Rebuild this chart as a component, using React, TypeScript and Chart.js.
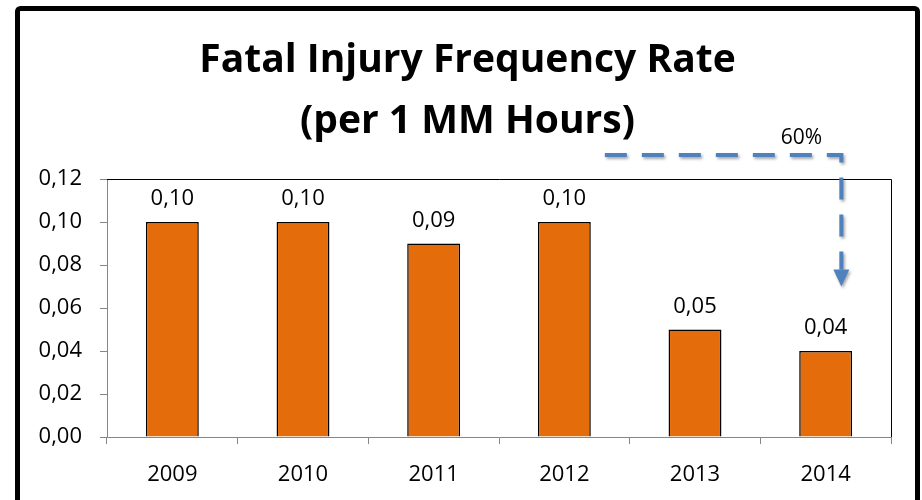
import React, { useEffect, useRef } from "react";
import { Chart, registerables } from "chart.js";

Chart.register(...registerables);

const TITLE_LINES = ["Fatal Injury Frequency Rate", "(per 1 MM Hours)"];
const YEARS = ["2009", "2010", "2011", "2012", "2013", "2014"];
const RATES = [0.10, 0.10, 0.09, 0.10, 0.05, 0.04];
const Y_MIN = 0;
const Y_MAX = 0.12;
const Y_STEP = 0.02;
const CHANGE_LABEL = "60%";
const ARROW_FROM_INDEX = 3;
const ARROW_TO_INDEX = 5;
const ARROW_TIP_VALUE = 0.07;

const FONT = "'Open Sans', 'DejaVu Sans', sans-serif";
const fmt = (v: number) => v.toFixed(2).replace(".", ",");

const framePlugin = {
  id: "frame",
  beforeDraw(chart: any) {
    const ctx = chart.ctx;
    ctx.save();
    ctx.fillStyle = "#ffffff";
    ctx.fillRect(0, 0, chart.width, chart.height);
    ctx.lineWidth = 5;
    ctx.strokeStyle = "#000000";
    ctx.beginPath();
    ctx.roundRect(17.5, 8.5, 900, 530, 3);
    ctx.stroke();
    // title
    ctx.fillStyle = "#000000";
    ctx.font = `bold 39px ${FONT}`;
    ctx.textAlign = "center";
    ctx.textBaseline = "alphabetic";
    const cx = 467.5;
    ctx.fillText(TITLE_LINES[0], cx, 72);
    ctx.fillText(TITLE_LINES[1], cx, 133);
    ctx.restore();
  },
};

const decoPlugin = {
  id: "deco",
  afterDatasetsDraw(chart: any) {
    const ctx = chart.ctx;
    const area = chart.chartArea;
    const xs = chart.scales.x;
    const ys = chart.scales.y;
    ctx.save();
    // top and right plot border in black
    ctx.strokeStyle = "#000000";
    ctx.lineWidth = 1;
    ctx.beginPath();
    ctx.moveTo(area.left, Math.round(area.top) + 0.5);
    ctx.lineTo(Math.round(area.right) + 0.5, Math.round(area.top) + 0.5);
    ctx.lineTo(Math.round(area.right) + 0.5, area.bottom);
    ctx.stroke();

    // value labels
    const meta = chart.getDatasetMeta(0);
    ctx.fillStyle = "#000000";
    ctx.font = `22px ${FONT}`;
    ctx.textAlign = "center";
    ctx.textBaseline = "alphabetic";
    meta.data.forEach((bar: any, i: number) => {
      ctx.fillText(fmt(RATES[i]), bar.x, bar.y - 17);
    });

    // dashed change arrow
    const catW = (area.right - area.left) / YEARS.length;
    const startX = xs.getPixelForValue(ARROW_FROM_INDEX) + 0.31 * catW;
    const endX = xs.getPixelForValue(ARROW_TO_INDEX) + 0.12 * catW;
    const lineY = area.top - 24;
    const tipY = ys.getPixelForValue(ARROW_TIP_VALUE);
    ctx.shadowColor = "rgba(0,0,0,0.35)";
    ctx.shadowBlur = 3;
    ctx.shadowOffsetX = 1.5;
    ctx.shadowOffsetY = 2;
    ctx.strokeStyle = "#4F81BD";
    ctx.lineWidth = 4;
    ctx.setLineDash([22, 15]);
    ctx.beginPath();
    ctx.moveTo(startX, lineY);
    ctx.lineTo(endX, lineY);
    ctx.lineTo(endX, tipY - 17);
    ctx.stroke();
    ctx.setLineDash([]);
    ctx.fillStyle = "#4F81BD";
    ctx.beginPath();
    ctx.moveTo(endX - 8, tipY - 17);
    ctx.lineTo(endX + 8, tipY - 17);
    ctx.lineTo(endX, tipY);
    ctx.closePath();
    ctx.fill();
    ctx.shadowColor = "transparent";
    ctx.fillStyle = "#000000";
    ctx.font = `21px ${FONT}`;
    ctx.textAlign = "center";
    ctx.textBaseline = "alphabetic";
    ctx.fillText(CHANGE_LABEL, endX - 40, lineY - 11);
    ctx.restore();
  },
};

export default function App() {
  const ref = useRef<HTMLCanvasElement | null>(null);
  useEffect(() => {
    if (!ref.current) return;
    const chart = new Chart(ref.current, {
      type: "bar",
      data: {
        labels: YEARS,
        datasets: [
          {
            data: RATES,
            backgroundColor: "#E46C0A",
            borderColor: "#000000",
            borderWidth: 1.5,
            categoryPercentage: 1,
            barPercentage: 0.405,
          },
        ],
      },
      options: {
        animation: false,
        responsive: false,
        maintainAspectRatio: false,
        layout: { padding: { left: 0, right: 31, top: 179, bottom: 0 } },
        plugins: {
          legend: { display: false },
          tooltip: { enabled: false },
          title: { display: false },
        },
        scales: {
          x: {
            afterFit: (s: any) => {
              s.height = 63;
            },
            grid: {
              display: true,
              drawOnChartArea: false,
              drawTicks: true,
              tickLength: 7,
              color: "#868686",
              offset: true,
            },
            border: { display: true, color: "#868686", width: 1 },
            ticks: {
              color: "#000000",
              font: { family: FONT, size: 22 },
              padding: 18,
              maxRotation: 0,
            },
          },
          y: {
            min: Y_MIN,
            max: Y_MAX,
            afterFit: (s: any) => {
              s.width = 107;
            },
            grid: {
              display: true,
              drawOnChartArea: false,
              drawTicks: true,
              tickLength: 7,
              color: "#868686",
            },
            border: { display: true, color: "#868686", width: 1 },
            ticks: {
              stepSize: Y_STEP,
              color: "#000000",
              font: { family: FONT, size: 22 },
              padding: 18,
              callback: (v: any) => fmt(Number(v)),
            },
          },
        },
      },
      plugins: [framePlugin, decoPlugin],
    });
    return () => chart.destroy();
  }, []);
  return (
    <div style={{ position: "fixed", left: 0, top: 0, width: 922, height: 500, background: "#fff" }}>
      <canvas ref={ref} width={922} height={500} style={{ display: "block", width: 922, height: 500 }} />
    </div>
  );
}
